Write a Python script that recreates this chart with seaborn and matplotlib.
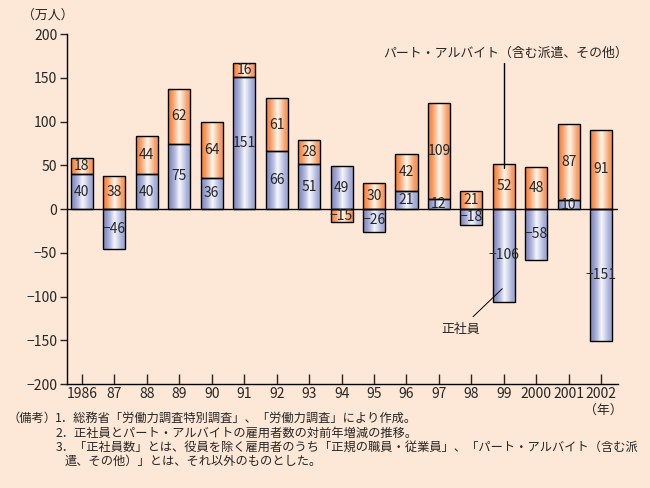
import numpy as np
import matplotlib
matplotlib.use("Agg")
import matplotlib.pyplot as plt
import seaborn as sns
from matplotlib.colors import LinearSegmentedColormap

years = ["1986", "87", "88", "89", "90", "91", "92", "93", "94", "95", "96",
         "97", "98", "99", "2000", "2001", "2002"]
regular = [40, -46, 40, 75, 36, 151, 66, 51, 49, -26, 21, 12, -18, -106, -58, 10, -151]
part_time = [18, 38, 44, 62, 64, 16, 61, 28, -15, 30, 42, 109, 21, 52, 48, 87, 91]

notes = [
    "（備考）",
    "1．総務省「労働力調査特別調査」、「労働力調査」により作成。",
    "2．正社員とパート・アルバイトの雇用者数の対前年増減の推移。",
    "3．「正社員数」とは、役員を除く雇用者のうち「正規の職員・従業員」、「パート・アルバイト（含む派",
    "遣、その他）」とは、それ以外のものとした。",
]

BG = "#FDE7D6"
BLUE_GRAD = ["#7E86BE", "#959CCC", "#BEC3E2", "#F6F7FC", "#D2D6EC", "#A8AFDA", "#98A0D0"]
ORANGE_GRAD = ["#F57E38", "#F6955A", "#F9C29C", "#FFF6EC", "#FBCFAE", "#F7A06A", "#F58E4E"]

sns.set_style("ticks")
plt.rcParams["font.family"] = ["Noto Sans CJK JP", "DejaVu Sans"]


def fmt(v):
    return f"−{abs(v)}" if v < 0 else str(v)


def add_gradient(ax, patch, colors, z):
    x0, y0 = patch.get_x(), patch.get_y()
    w, h = patch.get_width(), patch.get_height()
    cmap = LinearSegmentedColormap.from_list("g", colors)
    grad = np.linspace(0, 1, 128).reshape(1, -1)
    im = ax.imshow(grad, cmap=cmap, extent=(x0, x0 + w, y0, y0 + h),
                   aspect="auto", zorder=z, interpolation="bilinear")
    im.set_clip_path(patch)
    patch.set_facecolor("none")
    patch.set_edgecolor("black")
    patch.set_linewidth(1.0)
    patch.set_zorder(z + 0.5)


fig = plt.figure(figsize=(6.5, 4.88), dpi=100, facecolor=BG)
ax = fig.add_axes([0.103, 0.213, 0.848, 0.717], facecolor=BG)

orange_bottom = [max(r, 0) if p > 0 else 0 for r, p in zip(regular, part_time)]

sns.barplot(x=years, y=regular, order=years, color="#A0A8D4", width=0.68,
            errorbar=None, ax=ax)
sns.barplot(x=years, y=part_time, order=years, color="#F8A070", width=0.68,
            errorbar=None, bottom=orange_bottom, ax=ax)

for patch in ax.containers[0]:
    add_gradient(ax, patch, BLUE_GRAD, 2)
for patch in ax.containers[1]:
    add_gradient(ax, patch, ORANGE_GRAD, 2)

# value labels in the middle of each segment
for i, (r, p, b) in enumerate(zip(regular, part_time, orange_bottom)):
    ax.text(i, r / 2, fmt(r), ha="center", va="center", fontsize=10, zorder=5)
    ax.text(i, b + p / 2, fmt(p), ha="center", va="center", fontsize=10, zorder=5)

ax.axhline(0, color="black", lw=1.0, zorder=4)

ax.set_xlim(-0.46, 16.52)
ax.set_ylim(-200, 200)
ax.set_yticks(np.arange(-200, 201, 50))
ax.set_yticklabels([fmt(v) for v in range(-200, 201, 50)])
ax.set_xlabel("")
ax.set_ylabel("")
for s in ["top", "right"]:
    ax.spines[s].set_visible(False)
for s in ["left", "bottom"]:
    ax.spines[s].set_linewidth(1.0)
    ax.spines[s].set_color("black")
ax.tick_params(axis="y", direction="out", length=5, width=1, labelsize=10, pad=2)
ax.tick_params(axis="x", direction="in", length=7, width=1, labelsize=10, pad=2)

# annotations
ax.plot([13, 13], [167, 47], color="black", lw=1, zorder=6)
ax.text(13.05, 178, "パート・アルバイト（含む派遣、その他）", ha="center", va="center",
        fontsize=9.3)
ax.plot([12.05, 12.95], [-123, -91], color="black", lw=0.7, zorder=6)
ax.text(11.67, -137, "正社員", ha="center", va="center", fontsize=9.3)

fig.text(0.074, 0.969, "（万人）", ha="center", va="center", fontsize=9.3)
fig.text(0.928, 0.160, "（年）", ha="center", va="center", fontsize=9.3)

ys = [0.143, 0.113, 0.084, 0.055]
fig.text(0.012, ys[0], notes[0], ha="left", va="center", fontsize=8.8)
fig.text(0.085, ys[0], notes[1], ha="left", va="center", fontsize=8.8)
fig.text(0.085, ys[1], notes[2], ha="left", va="center", fontsize=8.8)
fig.text(0.085, ys[2], notes[3], ha="left", va="center", fontsize=8.8)
fig.text(0.100, ys[3], notes[4], ha="left", va="center", fontsize=8.8)

fig.savefig("out.png", dpi=100, facecolor=BG)
